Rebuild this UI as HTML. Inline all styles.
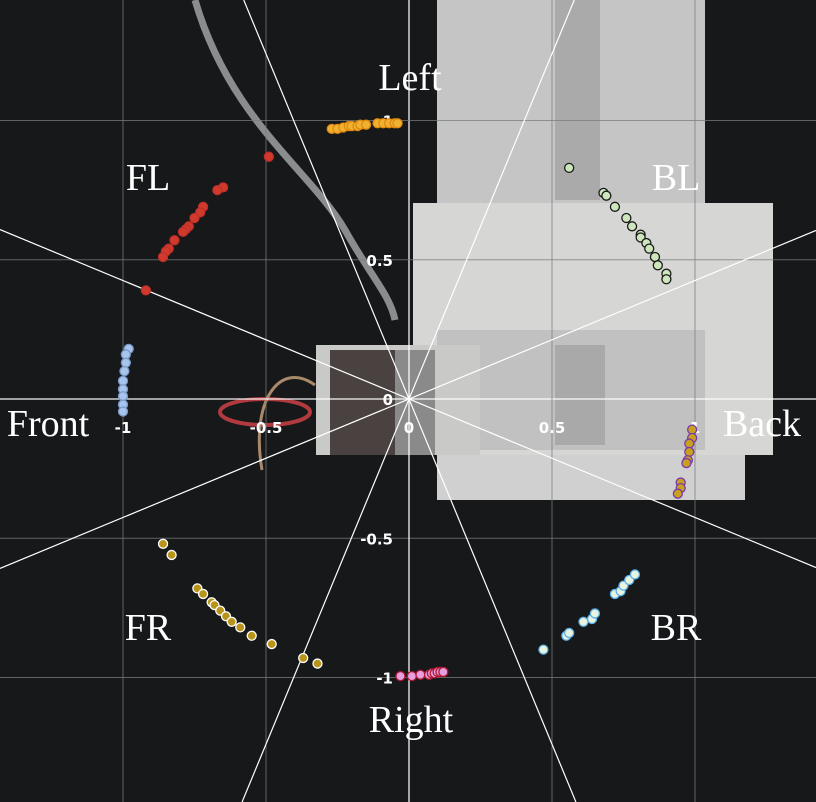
<!DOCTYPE html>
<html><head><meta charset="utf-8"><style>
html,body{margin:0;padding:0;background:#141618;width:816px;height:802px;overflow:hidden;}
svg{display:block;overflow:hidden}
.big{font-family:"Liberation Serif",serif;font-size:38px;fill:#fff}
.tk{font-family:"DejaVu Sans","Liberation Sans",sans-serif;font-weight:bold;font-size:15px;fill:#fff}
</style></head><body>
<svg id="chart" width="816" height="802" viewBox="0 0 816 802" xmlns="http://www.w3.org/2000/svg">
<rect x="0" y="0" width="816" height="802" fill="#16181a"/>
<g>
  <rect x="437" y="0" width="268" height="500" fill="#c4c5c4"/>
  <rect x="555" y="0" width="45" height="200" fill="#a9aaa9"/>
  <rect x="413" y="203" width="360" height="252" fill="#d6d6d4"/>
  <rect x="437" y="330" width="268" height="120" fill="#c0c1c0"/>
  <rect x="555" y="345" width="50" height="100" fill="#a8a9a8"/>
  <rect x="437" y="455" width="308" height="45" fill="#cfd0cf"/>
  <rect x="316" y="345" width="164" height="110" fill="#c9c9c7"/>
  <rect x="330" y="350" width="95" height="105" fill="#4a4240"/>
  <rect x="395" y="350" width="40" height="105" fill="#8a8a8a"/>
  <path d="M195,0 C230,120 310,170 345,230 C370,275 390,295 395,320" stroke="#8a8c8e" stroke-width="7" fill="none"/>
  <ellipse cx="265" cy="412" rx="45" ry="13" stroke="#b03a3e" stroke-width="4" fill="none"/>
  <path d="M315,385 C280,360 250,400 262,470" stroke="#a88a6a" stroke-width="3" fill="none"/>
</g>
<g id="grid"></g>
<g id="marks"></g>
<g>
  <text class="big" x="410" y="90" text-anchor="middle">Left</text>
  <text class="big" x="148" y="190" text-anchor="middle">FL</text>
  <text class="big" x="676" y="190" text-anchor="middle">BL</text>
  <text class="big" x="48" y="436" text-anchor="middle">Front</text>
  <text class="big" x="762" y="436" text-anchor="middle">Back</text>
  <text class="big" x="148" y="640" text-anchor="middle">FR</text>
  <text class="big" x="676" y="640" text-anchor="middle">BR</text>
  <text class="big" x="411" y="732" text-anchor="middle">Right</text>
</g>
</svg>
<script>
const gridTicks = [-1, -0.5, 0, 0.5, 1];
const tickLabels = ["-1", "-0.5", "0", "0.5", "1"];
const leftX = [-0.27,-0.25,-0.23,-0.21,-0.2,-0.18,-0.17,-0.15,-0.11,-0.09,-0.07,-0.05,-0.04];
const leftY = [0.97,0.97,0.975,0.98,0.98,0.98,0.985,0.985,0.99,0.99,0.99,0.99,0.99];
const flX = [-0.49,-0.65,-0.67,-0.72,-0.73,-0.75,-0.77,-0.78,-0.79,-0.82,-0.84,-0.85,-0.86,-0.92];
const flY = [0.87,0.76,0.75,0.69,0.67,0.65,0.62,0.61,0.60,0.57,0.54,0.53,0.51,0.39];
const frontX = [-0.98,-0.99,-0.99,-0.995,-1.0,-1.0,-1.0,-1.0,-1.0];
const frontY = [0.18,0.16,0.13,0.10,0.065,0.035,0.01,-0.02,-0.045];
const blX = [0.56,0.68,0.69,0.72,0.76,0.78,0.81,0.81,0.83,0.84,0.86,0.87,0.90,0.90];
const blY = [0.83,0.74,0.73,0.69,0.65,0.62,0.59,0.58,0.56,0.54,0.51,0.48,0.45,0.43];
const backX = [0.99,0.99,0.98,0.98,0.975,0.97,0.95,0.95,0.94];
const backY = [-0.11,-0.14,-0.16,-0.19,-0.22,-0.23,-0.30,-0.32,-0.34];
const frX = [-0.86,-0.83,-0.74,-0.72,-0.69,-0.68,-0.66,-0.64,-0.62,-0.59,-0.55,-0.48,-0.37,-0.32];
const frY = [-0.52,-0.56,-0.68,-0.70,-0.73,-0.74,-0.76,-0.78,-0.80,-0.82,-0.85,-0.88,-0.93,-0.95];
const rightX = [-0.03,0.01,0.04,0.07,0.08,0.09,0.10,0.11,0.12];
const rightY = [-0.995,-0.995,-0.99,-0.99,-0.985,-0.985,-0.98,-0.98,-0.98];
const brX = [0.47,0.55,0.56,0.61,0.64,0.65,0.72,0.74,0.75,0.77,0.79];
const brY = [-0.90,-0.85,-0.84,-0.80,-0.79,-0.77,-0.70,-0.69,-0.67,-0.65,-0.63];

const NS = "http://www.w3.org/2000/svg";
const W = 816, H = 802, CX = 409, CY = 399;
const sx = v => CX + 286 * v;
const sy = v => CY - 278.5 * v;
function mk(tag, attrs, parent){const e=document.createElementNS(NS,tag);for(const k in attrs)e.setAttribute(k,attrs[k]);parent.appendChild(e);return e;}
function rayLen(dx, dy){
  let L = Infinity;
  if (dx > 0) L = Math.min(L, (W - CX) / dx);
  if (dx < 0) L = Math.min(L, -CX / dx);
  if (dy > 0) L = Math.min(L, (H - CY) / dy);
  if (dy < 0) L = Math.min(L, -CY / dy);
  return L;
}
const grid = document.getElementById('grid');
gridTicks.forEach((t,i)=>{
  const vl = mk('line',{x1:sx(t),x2:sx(t),y1:0,y2:H,stroke:t===0?'#ffffff':'#7a7c7e','stroke-width':t===0?1.3:1,'stroke-opacity':t===0?0.95:0.75},grid);
  
  
  const hl = mk('line',{x1:0,x2:W,y1:sy(t),y2:sy(t),stroke:t===0?'#ffffff':'#7a7c7e','stroke-width':t===0?1.3:1,'stroke-opacity':t===0?0.95:0.75},grid);
  
  
});
[22.5,67.5,112.5,157.5].forEach(a=>{
  const r=a*Math.PI/180, dx=Math.cos(r), dy=Math.sin(r);
  const L1 = rayLen(dx, dy), L2 = rayLen(-dx, -dy);
  const l = mk('line',{x1:CX-L2*dx,y1:CY-L2*dy,x2:CX+L1*dx,y2:CY+L1*dy,stroke:'#fff','stroke-width':1.2},grid);
  
  
});
gridTicks.forEach((t,i)=>{
  const xt = mk('text',{x:sx(t),y:433,'text-anchor':'middle',class:'tk'},grid);
  xt.textContent = tickLabels[i];
  
  
  const yt = mk('text',{x:393,y:sy(t)+6,'text-anchor':'end',class:'tk'},grid);
  yt.textContent = tickLabels[i];
  
  
});
const marks = document.getElementById('marks');
function series(xs, ys, fill, stroke, name){
  const g = mk('g',{},marks);
  
  
  xs.forEach((x,i)=>{
    const c = mk('circle',{cx:sx(x),cy:sy(ys[i]),r:4.5,fill:fill,stroke:stroke,'stroke-width':1.3},g);
    
    
  });
}
series(leftX,leftY,'#f0b030','#e08a10','series-left');
series(flX,flY,'#d03a2c','#c0302a','series-fl');
series(frontX,frontY,'#a8c4ea','#7898c8','series-front');
series(blX,blY,'#cde6bc','#1a1a1a','series-bl');
series(backX,backY,'#c8a020','#7a3aa8','series-back');
series(frX,frY,'#b8941a','#ffffff','series-fr');
series(rightX,rightY,'#e4a0e0','#b01830','series-right');
series(brX,brY,'#e8f4e0','#5ab0e8','series-br');
</script>
</body></html>
